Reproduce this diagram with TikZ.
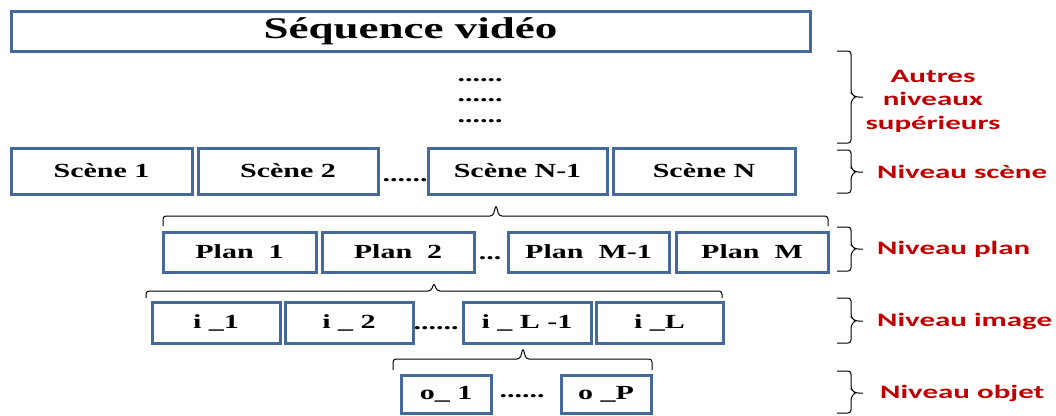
\documentclass[tikz,border=0pt]{standalone}
\usepackage{fontspec}
\setmainfont{Liberation Serif}[FakeStretch=1.5]
\newfontfamily\levelfont{Carlito}[FakeStretch=1.63]
\definecolor{boxblue}{RGB}{70,105,155}
\definecolor{levelred}{RGB}{192,0,0}

\begin{document}
\begin{tikzpicture}[x=1pt, y=-1pt,
    box/.style={draw=boxblue, line width=3pt, inner sep=0pt, minimum height=40pt,
        font=\fontsize{20}{24}\selectfont\bfseries},
    dots/.style={inner sep=0pt, font=\fontsize{20}{24}\selectfont\bfseries},
    brace line/.style={line width=1pt, rounded corners=3pt},
    level/.style={levelred, anchor=west, inner sep=0pt,
        font=\fontsize{19}{23.5}\selectfont\levelfont\bfseries}]
    \useasboundingbox[fill=white] (0,0) rectangle (1056,415);

    % Sequence
    \node[box, minimum width=799pt, minimum height=40pt, font=\fontsize{30}{36}\selectfont\bfseries]
        (seq) at (410.5,31) {Séquence vidéo};
    \node[dots] (d1) at (480,80) {......};
    \node[dots] (d2) at (480,100) {......};
    \node[dots] (d3) at (480,121) {......};

    % Scenes
    \node[box, minimum width=181pt, minimum height=46pt] (sc1) at (101.5,171) {Scène 1};
    \node[box, minimum width=180pt, minimum height=46pt] (sc2) at (288,171) {Scène 2};
    \node[dots] (scdots) at (405,180) {......};
    \node[box, minimum width=179pt, minimum height=46pt] (scN1) at (517.5,171) {Scène N-1};
    \node[box, minimum width=182pt, minimum height=46pt] (scN) at (704,171) {Scène N};

    % Plans
    \node[box, minimum width=153pt] (pl1) at (239.5,252) {Plan\ \ 1};
    \node[box, minimum width=152pt] (pl2) at (398,252) {Plan\ \ 2};
    \node[dots] (pldots) at (490,258) {...};
    \node[box, minimum width=161pt] (plM1) at (588.5,252) {Plan\ \ M-1};
    \node[box, minimum width=152pt] (plM) at (752,252) {Plan\ \ M};

    % Images
    \node[box, minimum width=128pt, minimum height=41pt] (im1) at (216,322.5) {i \_1};
    \node[box, minimum width=128pt, minimum height=41pt] (im2) at (349,322.5) {i \_ 2};
    \node[dots] (imdots) at (436,328) {......};
    \node[box, minimum width=128pt, minimum height=41pt] (imL1) at (527,322.5) {i \_ L -1};
    \node[box, minimum width=127pt, minimum height=41pt] (imL) at (659.5,322.5) {i \_L};

    % Objects
    \node[box, minimum width=90pt, minimum height=38pt] (ob1) at (446,394) {o\_ 1};
    \node[dots] (obdots) at (522,396) {......};
    \node[box, minimum width=90pt, minimum height=38pt] (obP) at (606,394) {o \_P};

    % Braces above each row of children
    \draw[brace line] (163,226) |- (493,216) -- (496,205) -- (499,216) -| (828,226);
    \draw[brace line] (146,298) |- (431,291) -- (434,283) -- (437,291) -| (722,298);
    \draw[brace line] (393,370) |- (520,359) -- (523,348) -- (526,359) -| (652,370);

    % Levels
    \draw[brace line] (837,51) -| (851,93) -- (855,97) -- (863,97);
    \draw[brace line] (855,97) -- (851,101) |- (837,143);
    \draw[brace line] (837,150) -| (851,168) -- (855,172) -- (863,172);
    \draw[brace line] (855,172) -- (851,176) |- (837,193);
    \draw[brace line] (837,227) -| (851,245) -- (855,249) -- (863,249);
    \draw[brace line] (855,249) -- (851,253) |- (837,271);
    \draw[brace line] (837,298) -| (851,317) -- (855,321) -- (863,321);
    \draw[brace line] (855,321) -- (851,325) |- (837,343);
    \draw[brace line] (837,371) -| (851,389) -- (855,393) -- (863,393);
    \draw[brace line] (855,393) -- (851,397) |- (837,413);
    \node[level, anchor=center, align=center] (lvsup) at (933,101) {Autres\\niveaux\\supérieurs};
    \node[level] (lvsc) at (877,172) {Niveau scène};
    \node[level] (lvpl) at (877,249) {Niveau plan};
    \node[level] (lvim) at (877,321) {Niveau image};
    \node[level] (lvob) at (880,393) {Niveau objet};
\end{tikzpicture}
\end{document}
